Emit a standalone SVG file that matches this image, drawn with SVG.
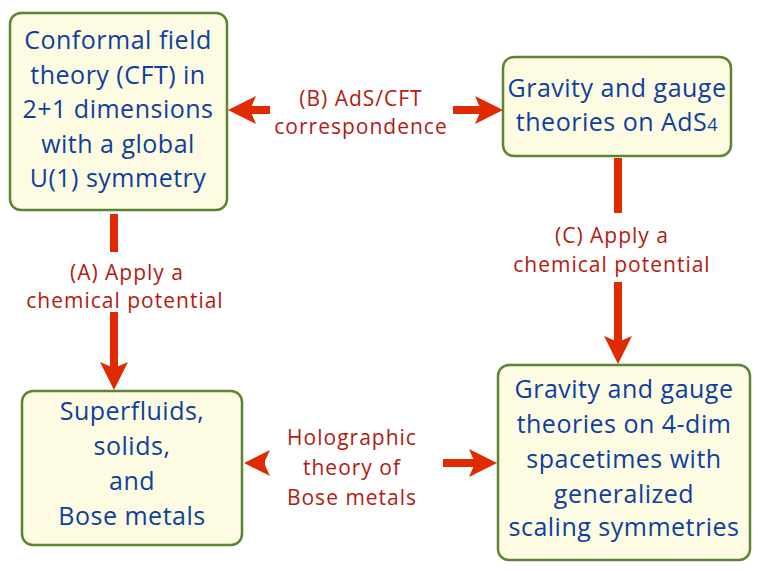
<svg xmlns="http://www.w3.org/2000/svg" width="761" height="571" viewBox="0 0 761 571">
<style>
.box{fill:#fdfbe1;stroke:#5b8534;stroke-width:2.5}
.nt{font-family:"Open Sans",Lato,"Liberation Sans",sans-serif;font-size:25px;letter-spacing:0.5px;fill:#0d3fa0;text-anchor:middle}
.lt{font-family:"Open Sans",Lato,"Liberation Sans",sans-serif;font-size:21px;letter-spacing:1px;fill:#b31a10;text-anchor:middle}
.sh{stroke:#e02a00;stroke-width:8;fill:none}
.hd{fill:#e02a00}
</style>
<rect width="761" height="571" fill="#ffffff"/>
<g id="connectors">
<line class="sh" x1="270" y1="110" x2="248" y2="110"/>
<polygon class="hd" points="228,110 256,96 250,110 256,124"/>
<line class="sh" x1="453" y1="110" x2="482" y2="110"/>
<polygon class="hd" points="503,110 475,96 481,110 475,124"/>
<line class="sh" x1="114" y1="214" x2="114" y2="252"/>
<line class="sh" x1="114" y1="312" x2="114" y2="370"/>
<polygon class="hd" points="114,390 100,362 114,368 128,362"/>
<line class="sh" x1="618" y1="158" x2="618" y2="213"/>
<line class="sh" x1="618" y1="282" x2="618" y2="343"/>
<polygon class="hd" points="618,364 604,336 618,342 632,336"/>
<line class="sh" x1="260" y1="463" x2="265" y2="463"/>
<polygon class="hd" points="244,463 270,450 264,463 270,476"/>
<line class="sh" x1="443" y1="463" x2="477" y2="463"/>
<polygon class="hd" points="497,463 469,449 475,463 469,477"/>
<text class="lt" x="361" y="106">(B) AdS/CFT</text>
<text class="lt" x="361" y="134">correspondence</text>
<text class="lt" x="127" y="280">(A) Apply a</text>
<text class="lt" x="125" y="308">chemical potential</text>
<text class="lt" x="612" y="243">(C) Apply a</text>
<text class="lt" x="612" y="272">chemical potential</text>
<text class="lt" x="352" y="445">Holographic</text>
<text class="lt" x="352" y="475">theory of</text>
<text class="lt" x="352" y="505">Bose metals</text>
</g>
<g id="node-cft">
<rect class="box" x="10" y="13" width="217" height="197" rx="11"/>
<text class="nt" x="118" y="49">Conformal field</text>
<text class="nt" x="118" y="84">theory (CFT) in</text>
<text class="nt" x="118" y="118">2+1 dimensions</text>
<text class="nt" x="118" y="153">with a global</text>
<text class="nt" x="118" y="187">U(1) symmetry</text>
</g>
<g id="node-ads">
<rect class="box" x="503" y="57" width="228" height="99" rx="11"/>
<text class="nt" x="617" y="97">Gravity and gauge</text>
<text class="nt" x="617" y="131">theories on AdS<tspan font-size="18">4</tspan></text>
</g>
<g id="node-superfluids">
<rect class="box" x="22" y="391" width="220" height="154" rx="11"/>
<text class="nt" x="132" y="420">Superfluids,</text>
<text class="nt" x="132" y="455">solids,</text>
<text class="nt" x="132" y="490">and</text>
<text class="nt" x="132" y="525">Bose metals</text>
</g>
<g id="node-scaling">
<rect class="box" x="498" y="365" width="252" height="195" rx="11"/>
<text class="nt" x="624" y="398">Gravity and gauge</text>
<text class="nt" x="624" y="433">theories on 4-dim</text>
<text class="nt" x="624" y="468">spacetimes with</text>
<text class="nt" x="624" y="503">generalized</text>
<text class="nt" x="624" y="536">scaling symmetries</text>
</g>
</svg>
